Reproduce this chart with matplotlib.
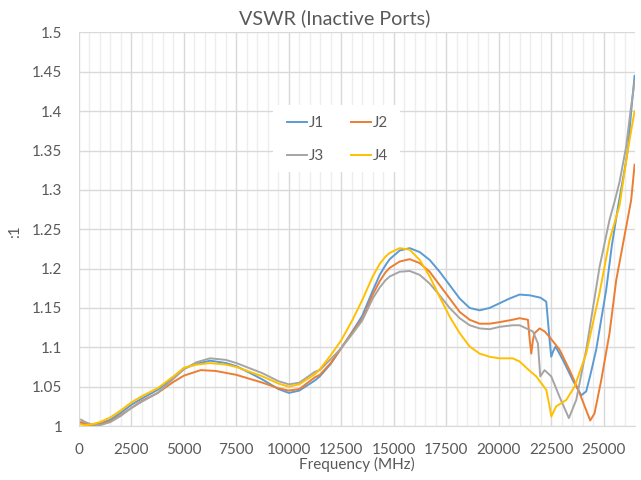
import matplotlib
matplotlib.use("Agg")
import matplotlib.pyplot as plt
from matplotlib.patches import Rectangle
from matplotlib.ticker import MultipleLocator

plt.rcParams['font.family'] = ['Lato', 'DejaVu Sans']

# values
freq_j1 = [100, 300, 600, 1000, 1500, 2000, 2500, 3000, 3750, 4500, 5000, 5600, 6250, 7000,
           7500, 8250, 8750, 9500, 10000, 10500, 11250, 11476, 12000, 12500, 13000, 13500,
           13750, 14000, 14333, 14600, 14810, 15286, 15762, 16238, 16714, 17190, 17667, 18143,
           18619, 19095, 19571, 20048, 20524, 21000, 21500, 22000, 22270, 22430, 22508, 22600,
           22714, 23063, 23540, 23937, 24175, 24400, 24651, 24900, 25127, 25400, 25700,
           26000, 26160, 26320, 26480]
vswr_j1 = [1.004, 1.002, 1.001, 1.003, 1.008, 1.017, 1.027, 1.035, 1.046, 1.061, 1.073, 1.079,
           1.083, 1.080, 1.076, 1.066, 1.059, 1.047, 1.042, 1.045, 1.058, 1.063, 1.079, 1.099,
           1.119, 1.140, 1.156, 1.172, 1.192, 1.204, 1.212, 1.223, 1.226, 1.221, 1.211, 1.196,
           1.179, 1.162, 1.150, 1.147, 1.150, 1.156, 1.162, 1.167, 1.166, 1.163, 1.158, 1.109,
           1.088, 1.095, 1.101, 1.084, 1.058, 1.039, 1.044, 1.068, 1.097, 1.137, 1.173, 1.230,
           1.280, 1.325, 1.351, 1.400, 1.445]

freq_j2 = [100, 300, 600, 1000, 1500, 2000, 2500, 3000, 3750, 4500, 5000, 5800, 6500, 7500,
           8750, 9500, 10000, 10500, 11250, 11476, 12000, 12500, 13000, 13500, 13750, 14000,
           14333, 14600, 14810, 15286, 15762, 16238, 16714, 17190, 17667, 18143, 18619, 19095,
           19571, 20048, 20667, 21000, 21397, 21480, 21556, 21640, 21714, 21952, 22200, 22429,
           22905, 23381, 23857, 24175, 24365, 24571, 24889, 25286, 25603, 26079, 26317, 26480]
vswr_j2 = [1.005, 1.003, 1.001, 1.002, 1.006, 1.014, 1.023, 1.032, 1.042, 1.056, 1.064, 1.071,
           1.070, 1.065, 1.055, 1.048, 1.045, 1.047, 1.062, 1.065, 1.080, 1.099, 1.118, 1.136,
           1.151, 1.167, 1.184, 1.195, 1.201, 1.209, 1.212, 1.207, 1.196, 1.179, 1.162, 1.145,
           1.135, 1.130, 1.130, 1.132, 1.135, 1.137, 1.135, 1.110, 1.092, 1.110, 1.118, 1.124,
           1.120, 1.113, 1.097, 1.071, 1.042, 1.020, 1.007, 1.016, 1.058, 1.118, 1.185, 1.253,
           1.287, 1.332]

freq_j3 = [100, 300, 600, 1000, 1500, 2000, 2500, 3000, 3750, 4500, 5000, 5600, 6250, 7000,
           7500, 8750, 9500, 10000, 10500, 11250, 11476, 12000, 12500, 13000, 13500, 13750,
           14000, 14333, 14600, 14810, 15286, 15762, 16238, 16714, 17190, 17667, 18143, 18619,
           19095, 19571, 20048, 20667, 21000, 21635, 21873, 21984, 22190, 22508, 22905, 23349,
           23698, 24175, 24810, 25286, 25524, 25762, 26079, 26286, 26480]
vswr_j3 = [1.008, 1.005, 1.002, 1.001, 1.005, 1.013, 1.023, 1.031, 1.042, 1.060, 1.072, 1.081,
           1.086, 1.084, 1.080, 1.067, 1.057, 1.053, 1.055, 1.069, 1.071, 1.085, 1.099, 1.116,
           1.134, 1.148, 1.162, 1.176, 1.185, 1.190, 1.196, 1.197, 1.192, 1.181, 1.166, 1.150,
           1.137, 1.128, 1.124, 1.123, 1.126, 1.128, 1.128, 1.120, 1.105, 1.063, 1.071, 1.063,
           1.037, 1.010, 1.033, 1.097, 1.202, 1.262, 1.285, 1.310, 1.355, 1.400, 1.438]

freq_j4 = [100, 300, 600, 1000, 1500, 2000, 2500, 3000, 3750, 4500, 5000, 5600, 6250, 7000,
           7500, 8750, 9500, 10000, 10500, 11250, 11476, 12000, 12500, 13000, 13500, 13750,
           14000, 14333, 14600, 14810, 15286, 15762, 16238, 16714, 17190, 17667, 18143, 18619,
           19095, 19571, 20048, 20667, 21000, 21400, 21794, 22270, 22429, 22508, 22746, 23222,
           23619, 24175, 24810, 25286, 25762, 26159, 26480]
vswr_j4 = [1.002, 1.001, 1.002, 1.005, 1.011, 1.020, 1.030, 1.038, 1.048, 1.063, 1.074, 1.078,
           1.080, 1.078, 1.075, 1.063, 1.054, 1.050, 1.053, 1.066, 1.072, 1.090, 1.109, 1.133,
           1.160, 1.175, 1.190, 1.206, 1.215, 1.220, 1.226, 1.224, 1.211, 1.190, 1.164, 1.139,
           1.118, 1.101, 1.092, 1.088, 1.086, 1.086, 1.082, 1.072, 1.063, 1.046, 1.025, 1.012,
           1.025, 1.033, 1.050, 1.092, 1.169, 1.236, 1.280, 1.351, 1.400]

labels = ["J1", "J2", "J3", "J4"]
colors = ["#5B9BD5", "#ED7D31", "#A5A5A5", "#FFC000"]
y_ticks = [1, 1.05, 1.1, 1.15, 1.2, 1.25, 1.3, 1.35, 1.4, 1.45, 1.5]
text_col = "#595959"

fig = plt.figure(figsize=(6.41, 4.8), dpi=100)
ax = fig.add_axes([79 / 641, 54 / 480, 556 / 641, 393.5 / 480])

series = [(freq_j1, vswr_j1), (freq_j2, vswr_j2), (freq_j3, vswr_j3), (freq_j4, vswr_j4)]
handles = []
for (f, v), lab, c in zip(series, labels, colors):
    h, = ax.plot(f, v, color=c, lw=1.4, label=lab, zorder=3)
    handles.append(h)

ax.set_xlim(0, 26500)
ax.set_ylim(1, 1.5)
ax.xaxis.set_major_locator(MultipleLocator(2500))
ax.xaxis.set_minor_locator(MultipleLocator(500))
ax.set_yticks(y_ticks, [f"{t:g}" for t in y_ticks])

ax.grid(which="major", color="#D9D9D9", lw=1.0)
ax.grid(which="minor", axis="x", color="#EDEDED", lw=1.0)
ax.set_axisbelow(True)
for s in ["top", "right", "left"]:
    ax.spines[s].set_visible(False)
ax.spines["bottom"].set_color("#D9D9D9")
ax.tick_params(which="both", length=0, colors=text_col, labelsize=11)
ax.tick_params(axis="x", pad=12.3)
ax.tick_params(axis="y", pad=12)

ax.set_xlabel("Frequency (MHz)", color=text_col, fontsize=11, labelpad=0)
ax.set_ylabel(":1", color=text_col, fontsize=11)
ax.yaxis.set_label_coords(-0.102, 0.495)
fig.text(0.522, 0.962, "VSWR (Inactive Ports)", ha="center", va="center",
         color=text_col, fontsize=14.2)

# white legend box (Excel style), drawn over the gridlines
ax.add_patch(Rectangle((0.349, 0.6455), 0.228, 0.170, transform=ax.transAxes,
                       facecolor="white", edgecolor="none", zorder=2.5))
order = [0, 2, 1, 3]
leg = ax.legend([handles[i] for i in order], [labels[i] for i in order], ncol=2,
                loc="upper left", bbox_to_anchor=(0.374, 0.787), frameon=False,
                fontsize=11, handlelength=1.3, handletextpad=0.15,
                columnspacing=1.725, labelspacing=1.215, borderpad=0, borderaxespad=0)
for t in leg.get_texts():
    t.set_color(text_col)

fig.savefig("out.png", dpi=100)
